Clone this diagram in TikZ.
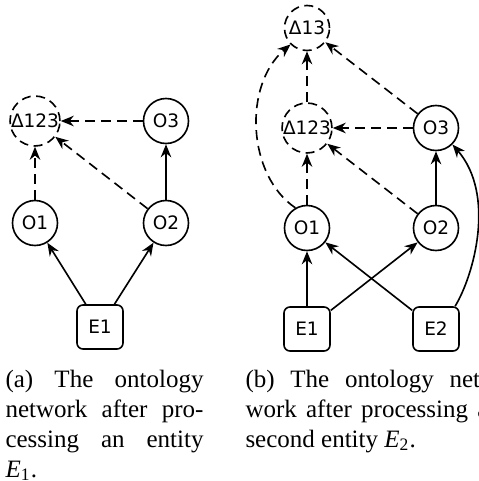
\documentclass[tikz,border=0pt]{standalone}
\usepackage{fontspec}
\setmainfont{Liberation Serif}
\newfontfamily\nodefont{DejaVu Sans}
\usetikzlibrary{arrows.meta}
\begin{document}
\begin{tikzpicture}[x=0.4pt,y=-0.4pt,
  every node/.style={font=\nodefont\fontsize{7.4}{9}\selectfont},
  onto/.style={circle,draw,line width=0.65pt,minimum size=18pt,inner sep=0pt},
  delta/.style={onto,dash pattern=on 3.6pt off 2.2pt},
  ent/.style={rectangle,rounded corners=2.4pt,draw,line width=0.65pt,
    minimum width=18.4pt,minimum height=17.6pt,inner sep=0pt},
  link/.style={line width=0.65pt,-{Stealth[length=5.2pt,width=4.2pt]}},
  weak/.style={link,dash pattern=on 4pt off 2.4pt},
  captext/.style={anchor=base west,inner sep=0pt,
    font=\rmfamily\fontsize{10}{12}\selectfont},
]
\clip (0,0) rectangle (479,481);

% (a) network after the first entity
\node[delta] (aD)  at (35,121)  {Δ123};
\node[onto]  (aO3) at (166,121) {O3};
\node[onto]  (aO1) at (35,223)  {O1};
\node[onto]  (aO2) at (166,223) {O2};
\node[ent]   (aE1) at (100,327) {E1};

\draw[link] (aE1) -- (aO1);
\draw[link] (aE1) -- (aO2);
\draw[link] (aO2) -- (aO3);
\draw[weak] (aO1) -- (aD);
\draw[weak] (aO2) -- (aD);
\draw[weak] (aO3) -- (aD);

% (b) network after the second entity
\node[delta] (bD13)  at (307,28)  {Δ13};
\node[delta] (bD123) at (307,128) {Δ123};
\node[onto]  (bO3)   at (436,128) {O3};
\node[onto]  (bO1)   at (307,228) {O1};
\node[onto]  (bO2)   at (436,228) {O2};
\node[ent]   (bE1)   at (307,329) {E1};
\node[ent]   (bE2)   at (436,329) {E2};

\draw[link] (bE1) -- (bO1);
\draw[link] (bE1) -- (bO2);
\draw[link] (bE2) -- (bO1);
\draw[link] (bO2) -- (bO3);
\draw[link] (bE2.50) .. controls (474,275) and (496,195) .. (bO3.-45);
\draw[weak] (bO1) -- (bD123);
\draw[weak] (bO2) -- (bD123);
\draw[weak] (bO3) -- (bD123);
\draw[weak] (bD123) -- (bD13);
\draw[weak] (bO3) -- (bD13);
\draw[weak] (bO1.120) .. controls (247,175) and (243,85) .. (bD13.-135);

% captions
\node[captext] (capa) at (5,387) {\parbox[t]{79.2pt}{(a) The ontology\linebreak
  network after pro-\linebreak cessing an entity\linebreak
  \textit{E}\textsubscript{1}.}};
\node[captext] (capb) at (245,387) {\parbox[t]{97.2pt}{(b) The ontology net-\linebreak
  work after processing a\linebreak second entity \textit{E}\textsubscript{2}.}};
\end{tikzpicture}
\end{document}
